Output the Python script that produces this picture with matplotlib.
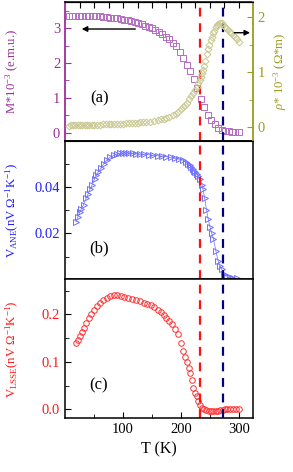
import numpy as np
import matplotlib
matplotlib.use("Agg")
import matplotlib.pyplot as plt
from matplotlib.ticker import MultipleLocator, FixedLocator, FormatStrFormatter

plt.rcParams['font.family'] = ['Liberation Serif', 'DejaVu Serif']
plt.rcParams['mathtext.fontset'] = 'custom'
plt.rcParams['mathtext.rm'] = 'Liberation Serif'
plt.rcParams['mathtext.it'] = 'Liberation Serif:italic'

# colours
c_m, c_m_mk = '#9b2f9b', '#b46cc4'
c_r, c_r_mk = '#9c9c1e', '#c8c890'
c_b, c_b_mk = '#2020ff', '#7070ff'
c_l, c_l_mk = '#ff1a1a', '#ff3030'

# (a) magnetisation
T_m = [6, 12, 18, 24, 30, 36, 42, 48, 54, 60, 66, 72, 78, 84, 90, 96, 102, 108, 114, 120,
       126, 132, 138, 144, 150, 156, 162, 168, 174, 180, 186, 192, 198, 204, 210, 216, 222,
       228, 234, 240, 246, 252, 258, 264, 270, 276, 282, 288, 294, 300]
M = [3.36, 3.36, 3.36, 3.36, 3.36, 3.35, 3.35, 3.35, 3.34, 3.34, 3.33, 3.32, 3.31, 3.30,
     3.29, 3.27, 3.25, 3.23, 3.20, 3.17, 3.14, 3.11, 3.08, 3.04, 3.00, 2.95, 2.89, 2.83,
     2.76, 2.68, 2.58, 2.48, 2.33, 2.14, 1.94, 1.76, 1.55, 1.27, 0.98, 0.75, 0.52, 0.36,
     0.24, 0.13, 0.08, 0.06, 0.04, 0.03, 0.03, 0.03]

# (a) resistivity
T_rho = [6, 10, 14, 18, 22, 26, 30, 34, 38, 42, 46, 50, 55, 60, 65, 70, 75, 80, 85, 90, 95,
         100, 105, 110, 115, 120, 125, 130, 135, 140, 147, 153, 160, 165, 170, 175, 180, 187,
         191, 195, 200, 204, 207, 210, 214, 218, 221, 224, 227, 230, 232, 234, 236, 238, 240,
         242, 245, 247, 249, 251, 253, 255, 257, 260, 262, 264, 267, 270, 273, 276, 278, 281,
         284, 287, 290, 293, 296, 300]
rho = [0.035, 0.036, 0.037, 0.038, 0.039, 0.040, 0.041, 0.042, 0.043, 0.044, 0.046, 0.048,
       0.050, 0.052, 0.054, 0.056, 0.058, 0.060, 0.062, 0.064, 0.067, 0.070, 0.073, 0.076,
       0.079, 0.082, 0.085, 0.090, 0.094, 0.098, 0.105, 0.115, 0.13, 0.145, 0.16, 0.175, 0.19,
       0.22, 0.25, 0.28, 0.33, 0.37, 0.41, 0.45, 0.51, 0.58, 0.63, 0.68, 0.74, 0.80, 0.86,
       0.92, 0.98, 1.04, 1.12, 1.20, 1.34, 1.42, 1.50, 1.58, 1.65, 1.71, 1.76, 1.83, 1.86,
       1.88, 1.90, 1.89, 1.86, 1.82, 1.80, 1.77, 1.74, 1.71, 1.68, 1.65, 1.61, 1.56]

# (b) anomalous Nernst
T_ane = [19, 22, 25, 28, 32, 36, 40, 43, 47, 51, 54, 57, 62, 67, 72, 78, 85, 90, 95, 100,
         105, 111, 117, 123, 130, 137, 145, 152, 160, 167, 175, 182, 190, 197, 204, 208, 212,
         215, 218, 221, 223, 225, 227, 230, 233, 236, 238, 241, 244, 247, 250, 253, 256, 260,
         264, 267, 270, 275, 279, 284, 290, 296]
V_ane = [0.0251, 0.027, 0.029, 0.0305, 0.0324, 0.035, 0.037, 0.039, 0.041, 0.0435, 0.045,
         0.0463, 0.048, 0.050, 0.0514, 0.0528, 0.0537, 0.0541, 0.0543, 0.0544, 0.0545, 0.0545,
         0.0543, 0.0542, 0.054, 0.0539, 0.0537, 0.0535, 0.0533, 0.0531, 0.0529, 0.0526, 0.0522,
         0.0519, 0.0514, 0.0508, 0.050, 0.0493, 0.0485, 0.0477, 0.047, 0.0463, 0.0456, 0.0445,
         0.0434, 0.041, 0.039, 0.035, 0.0302, 0.026, 0.0229, 0.020, 0.0178, 0.0127, 0.0083,
         0.0062, 0.0047, 0.0027, 0.0017, 0.0012, 0.0009, 0.0007]

# (c) longitudinal spin Seebeck
T_lsse = [19, 22, 26, 30, 33, 37, 41, 45, 50, 55, 60, 66, 72, 78, 84, 90, 96, 102, 108, 115,
          122, 129, 136, 142, 148, 154, 160, 165, 170, 175, 180, 185, 190, 195, 200, 204, 207,
          210, 213, 216, 219, 221, 224, 227, 230, 233, 236, 240, 244, 248, 252, 256, 260, 264,
          268, 272, 276, 280, 285, 290, 295, 300]
V_lsse = [0.140, 0.147, 0.154, 0.163, 0.171, 0.182, 0.192, 0.200, 0.210, 0.218, 0.225, 0.231,
          0.235, 0.239, 0.241, 0.241, 0.239, 0.237, 0.234, 0.232, 0.230, 0.228, 0.225, 0.222,
          0.219, 0.215, 0.210, 0.205, 0.199, 0.193, 0.186, 0.179, 0.170, 0.158, 0.140, 0.122,
          0.110, 0.100, 0.088, 0.076, 0.062, 0.044, 0.035, 0.028, 0.018, 0.0085, 0.003, 0.000,
          -0.002, -0.003, -0.004, -0.004, -0.003, -0.003, -0.002, -0.001, 0.0, 0.0, 0.0, 0.0,
          0.0, 0.0]

T_red, T_blue = 232, 273

fig, (ax1, ax2, ax3) = plt.subplots(3, 1, sharex=True, figsize=(2.93, 4.72), dpi=100)
fig.subplots_adjust(left=0.222, right=0.863, top=0.996, bottom=0.114, hspace=0)

fs = 10.5
lfs = 9.2
lx = -0.235
mk = dict(markersize=4, markerfacecolor='none', markeredgewidth=0.7)

# ---- panel (a)
ax1.plot(T_m, M, 's', color=c_m_mk, **mk)
ax1.set_ylim(-0.23, 3.76)
ax1.yaxis.set_major_locator(MultipleLocator(1))
ax1.yaxis.set_minor_locator(MultipleLocator(0.5))
ax1.set_ylabel(r'M*10$^{-3}$ (e.m.u.)', color=c_m, fontsize=lfs)
ax1.yaxis.set_label_coords(lx, 0.5)
ax1.tick_params(axis='y', which='both', colors=c_m, labelsize=fs)
ax1.text(60, 0.98, '(a)', fontsize=12, ha='center', va='center')
ax1.annotate('', xy=(24, 2.98), xytext=(126, 2.98),
             arrowprops=dict(arrowstyle='-|>', color='black', lw=1, mutation_scale=8))

ax1r = ax1.twinx()
ax1r.plot(T_rho, rho, 'D', color=c_r_mk, markersize=3.5, markerfacecolor='none',
          markeredgewidth=0.7)
ax1r.set_ylim(-0.24, 2.28)
ax1r.yaxis.set_major_locator(MultipleLocator(1))
ax1r.yaxis.set_minor_locator(MultipleLocator(0.5))
ax1r.set_ylabel(r'$\rho$* 10$^{-3}$ ($\Omega$*m)', color=c_r, fontsize=lfs)
ax1r.yaxis.set_label_coords(1.10, 0.5)
ax1r.tick_params(axis='y', which='both', colors=c_r, labelsize=fs, direction='in')
ax1r.tick_params(axis='y', which='major', length=4)
ax1r.tick_params(axis='y', which='minor', length=3)
ax1r.spines['right'].set_color(c_r)
ax1r.spines['right'].set_linewidth(1.3)
ax1r.spines['left'].set_visible(False)
ax1r.annotate('', xy=(324, 1.72), xytext=(287, 1.72),
              arrowprops=dict(arrowstyle='-|>', color='black', lw=1, mutation_scale=8))

# ---- panel (b)
ax2.plot(T_ane, V_ane, '>', color=c_b_mk, linestyle='-', linewidth=0.5, **mk)
ax2.set_ylim(0.0003, 0.0598)
ax2.yaxis.set_major_locator(FixedLocator([0.02, 0.04]))
ax2.yaxis.set_minor_locator(FixedLocator([0.01, 0.03, 0.05]))
ax2.yaxis.set_major_formatter(FormatStrFormatter('%.2f'))
ax2.set_ylabel(r'V$_{\mathrm{ANE}}$(nV $\Omega^{-1}$K$^{-1}$)', color=c_b, fontsize=lfs)
ax2.yaxis.set_label_coords(lx, 0.5)
ax2.tick_params(axis='y', which='both', labelcolor=c_b, labelsize=fs)
ax2.text(58, 0.0137, '(b)', fontsize=12, ha='center', va='center')

# ---- panel (c)
ax3.plot(T_lsse, V_lsse, 'o', color=c_l_mk, linestyle='none', **mk)
ax3.set_ylim(-0.019, 0.274)
ax3.yaxis.set_major_locator(MultipleLocator(0.1))
ax3.yaxis.set_minor_locator(MultipleLocator(0.05))
ax3.yaxis.set_major_formatter(FormatStrFormatter('%.1f'))
ax3.set_ylabel(r'V$_{\mathrm{LSSE}}$(nV $\Omega^{-1}$K$^{-1}$)', color=c_l, fontsize=lfs)
ax3.yaxis.set_label_coords(lx, 0.5)
ax3.tick_params(axis='y', which='both', labelcolor=c_l, labelsize=fs)
ax3.tick_params(axis='x', which='both', labelsize=fs)
ax3.text(58, 0.051, '(c)', fontsize=12, ha='center', va='center')
ax3.set_xlabel('T (K)', fontsize=11.5)

ax3.set_xlim(0, 324)
ax3.xaxis.set_major_locator(FixedLocator([100, 200, 300]))
ax3.xaxis.set_minor_locator(FixedLocator([50, 150, 250]))

for ax in (ax1, ax2, ax3):
    ax.tick_params(which='both', direction='in', top=False, bottom=False, right=False)
    ax.tick_params(which='major', length=4)
    ax.tick_params(which='minor', length=3)
    ax.axvline(T_red, color='#ff1010', linestyle=(0, (4, 3)), linewidth=1.6)
    ax.axvline(T_blue, color='#00007a', linestyle=(0, (4, 3)), linewidth=1.6)
    for s in ax.spines.values():
        s.set_linewidth(1.1)

# top ticks of panel (a), every 25 K
ax1top = ax1.secondary_xaxis('top')
ax1top.set_xticks([25 * i for i in range(1, 13)])
ax1top.tick_params(direction='in', length=4, labeltop=False)
ax1.tick_params(axis='x', which='both', labelbottom=False)

ax1.spines['left'].set_color(c_m)
ax1.spines['left'].set_linewidth(1.3)
ax1.spines['right'].set_visible(False)
ax3.tick_params(axis='x', which='both', bottom=True)

fig.savefig('out.png', dpi=100)
